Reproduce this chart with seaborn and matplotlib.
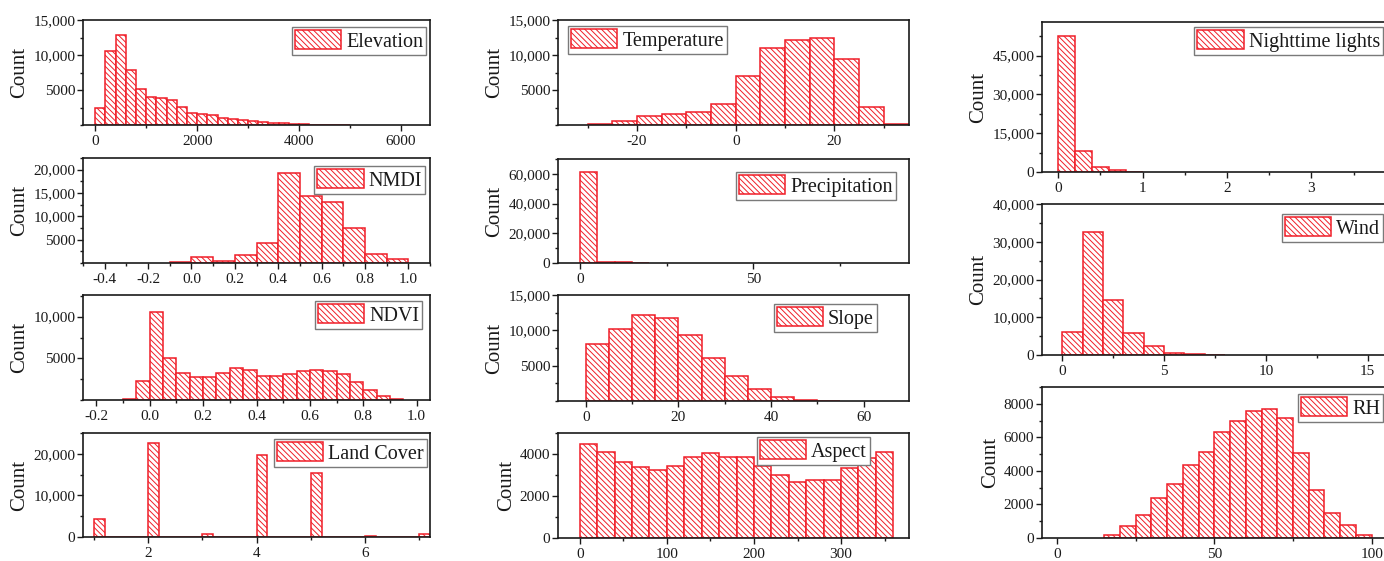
import numpy as np
import pandas as pd
import matplotlib
matplotlib.use("Agg")
import matplotlib.pyplot as plt
import matplotlib.patches as mpatches
from matplotlib.ticker import MultipleLocator, FuncFormatter, FixedLocator
import seaborn as sns

# ---------------- data (bin start, bin width, counts) ----------------
elev_start, elev_width = 0, 200
elev_counts = [2400, 10600, 12900, 7900, 5200, 4050, 3850, 3560, 2600, 1730,
               1630, 1440, 1060, 910, 770, 620, 480, 340, 240, 190,
               100, 60, 50, 50, 40]

nmdi_start, nmdi_width = -0.1, 0.1
nmdi_counts = [200, 1200, 500, 1650, 4300, 19300, 14300, 13000, 7500, 2000, 850]

ndvi_start, ndvi_width = -0.1, 0.05
ndvi_counts = [120, 2240, 10560, 5000, 3240, 2720, 2720, 3240, 3840, 3600,
               2920, 2920, 3120, 3440, 3640, 3480, 3080, 2160, 1200, 480, 120]

land_classes = [1, 2, 3, 4, 5, 6, 7]
land_counts = [4440, 22500, 700, 19700, 15400, 150, 700]
land_width = 0.2

temp_start, temp_width = -30, 5
temp_counts = [190, 625, 1250, 1590, 1875, 2980, 6970, 10960, 12210, 12450,
               9420, 2640, 100]

prec_start, prec_width = 0, 5
prec_counts = [61300, 900, 400, 100]

slope_start, slope_width = 0, 5
slope_counts = [8050, 10240, 12100, 11760, 9290, 6050, 3520, 1760, 570, 190, 50]

aspect_start, aspect_width = 0, 20
aspect_counts = [4480, 4100, 3620, 3360, 3230, 3420, 3840, 4060, 3840, 3840,
                 3420, 2990, 2660, 2750, 2780, 3330, 3820, 4100]

ntl_start, ntl_width = 0, 0.2
ntl_counts = [52500, 7950, 1800, 640, 100]

wind_start, wind_width = 0, 1
wind_counts = [6160, 32700, 14700, 5740, 2500, 600, 150, 50]

rh_start, rh_width = 15, 5
rh_counts = [200, 700, 1350, 2390, 3220, 4380, 5110, 6310, 6970, 7560,
             7660, 7160, 5070, 2890, 1490, 800, 180]

# ---------------- style ----------------
sns.set_style("ticks")
plt.rcParams["font.family"] = ["Liberation Serif", "DejaVu Serif"]
plt.rcParams["hatch.linewidth"] = 0.7
plt.rcParams["axes.linewidth"] = 1.2
RED = "#f01e28"
HATCH = "\\" * 6
TXT = "#1a1a1a"

W, H = 1384, 561
fig = plt.figure(figsize=(W / 100, H / 100), dpi=100)


def box(l, r, t, b):
    return [l / W, 1 - b / H, (r - l) / W, (b - t) / H]


def fmt(v, pos):
    v = int(round(v))
    return f"{v:,}" if abs(v) >= 10000 else f"{v}"


def panel(rect, edges, centers, counts, name, xlim, ylim, xmaj, xminor, xdec,
          ymaj, yminor, leg_anchor, leg_loc):
    ax = fig.add_axes(rect)
    df = pd.DataFrame({"x": np.asarray(centers, float),
                       "n": np.asarray(counts, float)})
    sns.histplot(data=df, x="x", weights="n", bins=[float(e) for e in edges],
                 ax=ax, facecolor="white", edgecolor=RED, linewidth=1.1,
                 hatch=HATCH, alpha=1, fill=True)
    for p in ax.patches:
        p.set_hatch(HATCH)
        p.set_edgecolor(RED)
        p.set_facecolor("white")
    ax.set_xlim(*xlim)
    ax.set_ylim(*ylim)
    ax.xaxis.set_major_locator(FixedLocator(xmaj))
    ax.xaxis.set_minor_locator(MultipleLocator(xminor))
    ax.yaxis.set_major_locator(FixedLocator(ymaj))
    ax.yaxis.set_minor_locator(MultipleLocator(yminor))
    ax.yaxis.set_major_formatter(FuncFormatter(fmt))
    if xdec:
        ax.xaxis.set_major_formatter(FuncFormatter(lambda v, p: f"{v:.1f}"))
    else:
        ax.xaxis.set_major_formatter(FuncFormatter(lambda v, p: f"{int(round(v))}"))
    ax.tick_params(which="both", direction="out", top=False, right=False,
                   colors=TXT, labelsize=11, width=1.0)
    ax.tick_params(axis="y", which="both", pad=1.5)
    ax.tick_params(axis="x", which="both", pad=3.5)
    ax.tick_params(which="major", length=4)
    ax.tick_params(which="minor", length=2.5)
    for s in ax.spines.values():
        s.set_visible(True)
        s.set_color(TXT)
        s.set_linewidth(1.2)
    ax.set_xlabel("")
    ax.set_ylabel("Count", fontsize=15, color=TXT, labelpad=3)
    handle = mpatches.Patch(facecolor="white", edgecolor=RED, hatch=HATCH,
                            linewidth=1.1, label=name)
    leg = ax.legend(handles=[handle], loc=leg_loc,
                    bbox_to_anchor=(leg_anchor[0] / W, 1 - leg_anchor[1] / H),
                    bbox_transform=fig.transFigure, borderaxespad=0,
                    fancybox=False, framealpha=1, edgecolor="#7a7a7a",
                    fontsize=14.5, handlelength=2.3, handleheight=1.1,
                    handletextpad=0.25, borderpad=0.15)
    leg.get_frame().set_linewidth(1.0)
    for t in leg.get_texts():
        t.set_color(TXT)
    return ax


def regular(start, width, counts):
    edges = start + width * np.arange(len(counts) + 1)
    return edges, edges[:-1] + width / 2


# ---------------- left column ----------------
LX = (83, 430)
e, c = regular(elev_start, elev_width, elev_counts)
panel(box(*LX, 20, 125), e, c, elev_counts, "Elevation",
      (-240, 6570), (0, 15000), [0, 2000, 4000, 6000], 1000, False,
      [5000, 10000, 15000], 2500, (426, 27), "upper right")
e, c = regular(nmdi_start, nmdi_width, nmdi_counts)
panel(box(*LX, 158, 263), e, c, nmdi_counts, "NMDI",
      (-0.5, 1.1), (0, 22500), [-0.4, -0.2, 0.0, 0.2, 0.4, 0.6, 0.8, 1.0], 0.1, True,
      [5000, 10000, 15000, 20000], 2500, (425, 166), "upper right")
e, c = regular(ndvi_start, ndvi_width, ndvi_counts)
panel(box(*LX, 295, 400), e, c, ndvi_counts, "NDVI",
      (-0.25, 1.05), (0, 12600), [-0.2, 0.0, 0.2, 0.4, 0.6, 0.8, 1.0], 0.1, True,
      [5000, 10000], 2500, (422, 301), "upper right")
lc = np.asarray(land_classes, float)
land_edges = np.sort(np.concatenate([lc, lc + land_width]))
panel(box(*LX, 433, 537), land_edges, lc + land_width / 2, land_counts, "Land Cover",
      (0.8, 7.2), (0, 25000), [2, 4, 6], 1, False,
      [0, 10000, 20000], 5000, (427, 439), "upper right")

# ---------------- middle column ----------------
MX = (558, 909)
e, c = regular(temp_start, temp_width, temp_counts)
panel(box(*MX, 20, 125), e, c, temp_counts, "Temperature",
      (-36, 35.1), (0, 15000), [-20, 0, 20], 10, False,
      [5000, 10000, 15000], 2500, (568, 26), "upper left")
e, c = regular(prec_start, prec_width, prec_counts)
panel(box(*MX, 159, 263), e, c, prec_counts, "Precipitation",
      (-6.3, 94.9), (0, 70000), [0, 50], 25, False,
      [0, 20000, 40000, 60000], 10000, (896, 172), "upper right")
e, c = regular(slope_start, slope_width, slope_counts)
panel(box(*MX, 295, 401), e, c, slope_counts, "Slope",
      (-6, 69.8), (0, 15000), [0, 20, 40, 60], 10, False,
      [5000, 10000, 15000], 2500, (877, 304), "upper right")
e, c = regular(aspect_start, aspect_width, aspect_counts)
panel(box(*MX, 433, 538), e, c, aspect_counts, "Aspect",
      (-25, 378), (0, 5000), [0, 100, 200, 300], 50, False,
      [0, 2000, 4000], 1000, (870, 437), "upper right")

# ---------------- right column ----------------
RX = (1042, 1390)
e, c = regular(ntl_start, ntl_width, ntl_counts)
panel(box(*RX, 22, 172), e, c, ntl_counts, "Nighttime lights",
      (-0.19, 3.93), (0, 58000), [0, 1, 2, 3], 0.5, False,
      [0, 15000, 30000, 45000], 7500, (1383, 27), "upper right")
e, c = regular(wind_start, wind_width, wind_counts)
panel(box(*RX, 204, 355), e, c, wind_counts, "Wind",
      (-1.0, 16.1), (0, 40000), [0, 5, 10, 15], 2.5, False,
      [0, 10000, 20000, 30000, 40000], 5000, (1383, 214), "upper right")
e, c = regular(rh_start, rh_width, rh_counts)
panel(box(*RX, 387, 538), e, c, rh_counts, "RH",
      (-4.7, 105.8), (0, 9000), [0, 50, 100], 25, False,
      [0, 2000, 4000, 6000, 8000], 1000, (1383, 394), "upper right")

fig.savefig("out.png", dpi=100, facecolor="white")
